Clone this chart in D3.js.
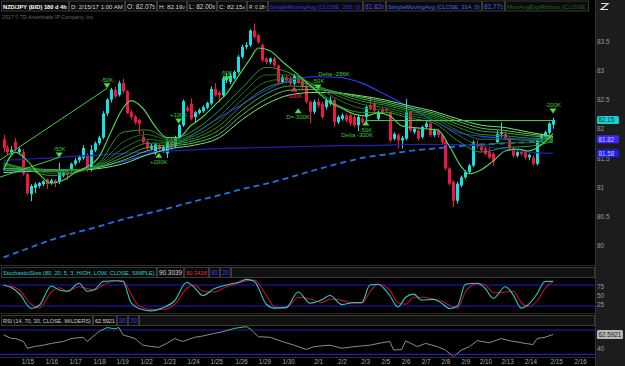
<!DOCTYPE html>
<html>
<head>
<meta charset="utf-8">
<script src="https://cdnjs.cloudflare.com/ajax/libs/d3/7.8.5/d3.min.js"></script>
<style>
html, body { margin: 0; padding: 0; background: #000; }
svg { display: block; font-family: "Liberation Sans", Arial, sans-serif; }
</style>
</head>
<body>
<div id="chart"></div>
<script>

// ---- candles (4h bars, NZD/JPY) ----
const openP = [
81.82,81.68,81.60,81.78,81.60,81.60,81.23,80.88,80.99,81.02,
81.05,81.13,81.07,81.12,81.09,81.20,81.27,81.29,81.40,81.46,
81.50,81.55,81.30,81.63,81.75,81.85,82.26,82.50,82.67,82.58,
82.78,82.64,82.28,82.21,82.15,81.86,81.78,81.66,81.58,81.72,
81.62,81.58,81.80,81.70,81.85,82.06,82.36,82.43,82.20,82.27,
82.30,82.36,82.43,82.68,82.62,82.57,82.83,82.80,82.86,82.97,
83.23,83.40,83.43,83.68,83.60,83.43,83.20,83.14,83.20,83.08,
82.80,82.88,82.86,82.77,82.88,82.83,82.74,82.46,82.29,82.46,
82.43,82.37,82.43,82.49,82.11,82.17,82.23,82.23,82.20,82.06,
82.17,82.20,82.40,82.43,82.17,82.34,82.34,82.28,81.83,81.89,
81.80,81.83,82.29,81.94,81.97,81.86,82.03,82.09,81.89,81.97,
81.89,81.77,81.32,81.09,80.77,81.03,81.17,81.26,81.37,81.74,
81.71,81.66,81.60,81.57,81.77,81.91,81.91,81.83,81.66,81.54,
81.60,81.60,81.51,81.51,81.40,81.80,81.87,81.93,82.07];
const highP = [
81.90,81.72,81.70,81.84,81.68,81.65,81.25,81.05,81.08,81.09,
81.12,81.15,81.14,81.14,81.42,81.30,81.30,81.42,81.50,81.55,
81.72,81.58,81.72,81.78,81.88,82.30,82.52,82.70,82.72,82.82,
82.86,82.66,82.32,82.24,82.17,81.96,81.80,81.74,81.76,81.74,
81.71,81.82,81.85,81.88,82.08,82.50,82.40,82.52,82.30,82.35,
82.40,82.46,82.72,82.78,82.64,82.90,82.95,82.95,83.00,83.26,
83.44,83.48,83.70,83.80,83.62,83.46,83.22,83.22,83.23,83.10,
82.92,82.91,82.90,82.94,82.92,82.86,82.77,82.48,82.50,82.52,
82.46,82.52,82.55,82.52,82.23,82.26,82.26,82.26,82.23,82.24,
82.20,82.40,82.55,82.46,82.31,82.37,82.36,82.30,81.94,81.92,
81.88,82.51,82.31,82.03,82.00,82.05,82.13,82.11,82.00,82.00,
81.92,81.80,81.34,81.12,81.09,81.20,81.29,81.40,81.80,81.80,
81.74,81.70,81.70,81.60,81.97,82.11,81.97,81.86,81.69,81.63,
81.63,81.63,81.58,81.54,81.83,81.92,81.97,82.11,82.19];
const lowP = [
81.60,81.55,81.56,81.62,81.56,81.20,80.86,80.76,80.90,80.98,
81.02,80.97,81.04,81.00,81.05,81.17,81.12,81.25,81.37,81.42,
81.47,81.26,81.27,81.60,81.72,81.82,82.22,82.45,82.52,82.55,
82.60,82.25,82.16,82.07,81.91,81.74,81.62,81.63,81.55,81.62,
81.59,81.50,81.64,81.67,81.83,82.03,82.28,82.14,82.10,82.24,
82.27,82.33,82.40,82.55,82.45,82.54,82.78,82.76,82.84,82.94,
83.20,83.36,83.40,83.54,83.45,83.14,83.10,83.10,83.05,82.77,
82.77,82.80,82.74,82.74,82.77,82.68,82.43,82.09,82.25,82.36,
82.17,82.33,82.40,82.03,82.08,82.14,82.11,82.05,82.03,81.96,
82.08,82.10,82.31,82.28,82.14,82.26,82.28,81.77,81.80,81.66,
81.66,81.80,81.94,81.91,81.80,81.83,82.00,81.86,81.86,81.85,
81.74,81.29,81.03,80.66,80.72,81.00,81.14,81.23,81.34,81.66,
81.60,81.54,81.48,81.37,81.74,81.86,81.80,81.63,81.51,81.51,
81.54,81.48,81.46,81.37,81.37,81.77,81.84,81.90,82.00];
const closeP = [
81.67,81.60,81.64,81.66,81.65,81.23,80.90,81.02,81.05,81.07,
81.10,81.05,81.12,81.07,81.29,81.26,81.22,81.40,81.46,81.52,
81.67,81.32,81.64,81.75,81.85,82.26,82.50,82.67,82.55,82.78,
82.64,82.27,82.20,82.11,82.09,81.77,81.66,81.71,81.73,81.65,
81.69,81.78,81.68,81.85,82.06,82.47,82.31,82.17,82.28,82.32,
82.37,82.44,82.68,82.57,82.57,82.86,82.86,82.91,82.97,83.23,
83.40,83.43,83.68,83.57,83.48,83.17,83.14,83.20,83.08,82.80,
82.88,82.83,82.77,82.91,82.80,82.71,82.46,82.29,82.46,82.40,
82.20,82.49,82.49,82.11,82.20,82.23,82.14,82.09,82.06,82.20,
82.11,82.37,82.34,82.31,82.29,82.29,82.31,81.80,81.91,81.80,
81.84,82.29,81.97,82.00,81.83,82.03,82.09,81.89,81.97,81.89,
81.77,81.32,81.06,80.77,81.06,81.17,81.26,81.37,81.77,81.69,
81.63,81.57,81.51,81.43,81.91,81.94,81.83,81.66,81.54,81.60,
81.57,81.51,81.55,81.40,81.80,81.89,81.94,82.09,82.15];

// ---- moving averages, read at sample bars ----
const maBars = [0,6,12,18,24,30,36,42,48,54,60,66,72,78,84,90,96,102,108,114,120,126,132,138];
const sma200 = [81.29,81.28,81.27,81.29,81.35,81.44,81.56,81.68,81.92,82.18,82.42,82.66,82.83,82.89,82.88,82.78,82.58,82.36,82.14,81.94,81.87,81.84,81.82,81.82];
const smaFlat = [81.46,81.48,81.50,81.53,81.55,81.58,81.60,81.62,81.64,81.66,81.67,81.68,81.69,81.70,81.71,81.71,81.72,81.73,81.73,81.73,81.70,81.65,81.60,81.58];
const smaDashed = [79.80,79.95,80.10,80.22,80.33,80.45,80.55,80.65,80.76,80.86,80.97,81.06,81.17,81.29,81.40,81.50,81.56,81.62,81.66,81.70,81.73,81.75,81.77,81.78];

const ribbon2 = [81.42,81.30,81.20,81.25,81.42,81.94,81.98,81.82,81.98,82.30,82.70,83.05,82.95,82.70,82.40,82.28,82.28,82.18,82.10,81.80,81.60,81.68,81.70,81.78];
const ribbon3 = [81.40,81.32,81.24,81.27,81.40,81.77,81.90,81.80,81.92,82.20,82.60,82.92,82.92,82.75,82.50,82.35,82.32,82.22,82.14,81.90,81.72,81.76,81.76,81.80];
const ribbon4 = [81.38,81.33,81.27,81.29,81.38,81.66,81.82,81.78,81.88,82.12,82.50,82.80,82.86,82.76,82.56,82.42,82.36,82.26,82.18,81.97,81.82,81.82,81.80,81.82];
const ribbon5 = [81.35,81.33,81.29,81.30,81.37,81.57,81.75,81.76,81.84,82.04,82.41,82.70,82.80,82.74,82.60,82.47,82.40,82.30,82.21,82.03,81.90,81.88,81.84,81.83];
const ribbon6 = [81.32,81.32,81.30,81.30,81.35,81.51,81.68,81.73,81.80,81.97,82.32,82.60,82.73,82.71,82.62,82.51,82.43,82.33,82.24,82.08,81.96,81.93,81.88,81.85];
const ribbon7 = [81.29,81.30,81.30,81.30,81.34,81.46,81.62,81.70,81.76,81.90,82.24,82.51,82.66,82.67,82.62,82.54,82.46,82.36,82.27,82.13,82.01,81.97,81.91,81.86];
const ribbon8 = [81.25,81.27,81.28,81.29,81.32,81.40,81.55,81.66,81.72,81.84,82.16,82.42,82.58,82.62,82.61,82.56,82.49,82.39,82.30,82.17,82.06,82.02,81.94,81.87];

const fastBars = [0,3,6,9,12,15,18,21,24,27,30,32,35,38,41,44,47,50,53,56,59,62,64,67,70,73,76,79,82,85,88,91,94,97,100,103,106,109,112,115,117,120,123,126,129,132,135,138];
const fastEma = [81.30,81.60,81.45,81.22,81.07,81.12,81.25,81.35,81.52,81.95,82.35,82.48,82.35,82.05,81.85,81.85,82.05,82.20,82.40,82.60,82.90,83.20,83.38,83.33,83.15,82.98,82.80,82.62,82.45,82.35,82.25,82.22,82.27,82.22,82.05,82.02,82.00,81.98,81.70,81.35,81.23,81.30,81.45,81.62,81.65,81.62,81.72,81.92];

// ---- trade signals ----
const sigBars = [14, 26, 39, 44, 56, 73, 79, 74, 91, 138];
const sigPrices = [81.51, 82.69, 81.59, 82.09, 82.81, 82.72, 82.67, 82.35, 82.14, 82.26];
const sigDirs = ["down","down","up","down","down","up","down","up","up","down"];
const sigLabels = ["-50K","-50K","+200K","+100K","-50K","-100K","-50K","D=-300K","-50K","-200K"];
const noteBars = [83, 88.8];
const notePrices = [82.90, 81.86];
const noteLabels = ["Delta -286K", "Delta -300K"];
const zzFromBar = [-1, -1, 91], zzFromPrice = [81.46, 81.17, 82.14];
const zzToBar = [26, 14, 138], zzToPrice = [82.69, 81.51, 82.14];

// ---- stochastic slow ----
const stochBars = [0,2,4,7,9,12,14,16,19,21,23,25,28,30,32,34,37,40,43,46,48,50,53,56,59,61,63,66,68,71,74,77,80,82,85,88,90,92,94,97,99,101,103,105,108,110,112,114,116,119,121,123,126,128,130,132,134,136,138];
const stochK = [80,72,55,13,22,77,66,62,85,62,68,90,92,90,30,13,6,15,35,88,72,50,70,80,88,96,90,25,14,16,60,28,38,50,24,30,30,80,82,50,17,45,54,37,39,28,13,20,82,85,70,42,75,52,14,26,55,90,90.3];
const stochD = [78,76,65,25,15,60,72,62,75,70,66,80,92,92,55,20,10,10,25,70,80,62,60,75,85,92,94,50,18,14,45,40,30,40,36,28,28,60,82,65,30,25,45,45,40,34,22,14,60,84,80,58,60,62,30,18,35,70,90.3];

// ---- RSI ----
const rsiBars = [0,2,3,5,6,8,10,12,15,17,20,21,23,24,26,28,29,30,33,35,37,39,41,43,45,48,50,53,55,58,61,62,64,67,70,73,76,78,80,82,85,88,92,95,97,98,100,101,104,106,109,111,113,115,117,119,122,124,125,127,131,133,134,136,138];
const rsiVals = [62,56,56,51,40,43,45,48,51,56,58,51,62,67.5,74,72,74,62,56,45,43,41.5,48,56,51,58,60,64.5,67,72.7,75.5,71.6,59,58,51,45,38,42.6,44,45,40,42.6,45,49,51,37,38,52,42.6,48,42.6,37,26,37,42.6,52.5,49,53.6,56,52.5,48,46,56,58,62.59];

// ---- axes ----
const priceTicks = [80, 80.5, 81, 81.5, 82, 82.5, 83, 83.5];
const dateLabels = ["1/15","1/16","1/17","1/18","1/19","1/22","1/23","1/24","1/25","1/26","1/29","1/30","2/1","2/2","2/3","2/5","2/6","2/7","2/8","2/9","2/10","2/13","2/14","2/15","2/16"];
const dateBars = [6,12,18,24,29.8,35.8,41.6,47.6,53.4,59.7,65.5,71.5,79,85,90.8,95.9,101,106,111,116,121,126.5,132.3,138.8,144.8];


const W = 625, H = 366, plotR = 595;
const upCol = "#14e2e2", dnCol = "#ef1646";

const svg = d3.select("#chart").append("svg")
    .attr("width", W).attr("height", H);
svg.append("rect").attr("width", W).attr("height", H).attr("fill", "#000");

const x = d3.scaleLinear().domain([0, 138]).range([3.5, 553]);
const y = d3.scaleLinear().domain([80, 83.5]).range([245.7, 41]);
const yS = d3.scaleLinear().domain([0, 100]).range([313, 278]);
const yR = d3.scaleLinear().domain([30, 70]).range([354.3, 330]);

const defs = svg.append("defs");
function clip(id, x0, y0, w, h) {
    defs.append("clipPath").attr("id", id).append("rect")
        .attr("x", x0).attr("y", y0).attr("width", w).attr("height", h);
}
clip("cMain", 0, 12, plotR, 253);
clip("cStoch", 0, 278, plotR, 36);
clip("cRsi", 0, 326, plotR, 31);
clip("cRsiHi", 0, 300, plotR, yR(70) - 300);
clip("cRsiMid", 0, yR(70), plotR, yR(30) - yR(70));
clip("cRsiLo", 0, yR(30), plotR, 20);

// right axis panel
svg.append("rect").attr("x", plotR).attr("y", 0).attr("width", W - plotR).attr("height", H).attr("fill", "#1c1c1c");
svg.append("line").attr("x1", plotR + 0.5).attr("x2", plotR + 0.5).attr("y1", 0).attr("y2", H).attr("stroke", "#333");
svg.append("path").attr("d", "M601,3.5H608L601,9.5H608").attr("fill", "none").attr("stroke", "#ddd").attr("stroke-width", 1.2);

// panel separators
[265.5, 313.5, 357.5].forEach(v => {
    svg.append("line").attr("x1", 0).attr("x2", plotR).attr("y1", v).attr("y2", v).attr("stroke", "#2c2c2c");
});

// ---- header text boxes ----
function boxRow(items, y0, h, fs) {
    const g = svg.append("g");
    items.forEach(it => {
        g.append("rect").attr("x", it.x0 + 0.5).attr("y", y0 + 0.5)
            .attr("width", it.x1 - it.x0 - 1).attr("height", h)
            .attr("fill", it.bg || "#0a0a0a").attr("stroke", "#3a3a3a");
        if (!it.t) return;
        const t = g.append("text").attr("x", it.x0 + 2).attr("y", y0 + h - 2)
            .attr("font-size", fs).attr("fill", it.c)
            .attr("font-weight", it.b ? "bold" : "normal");
        t.append("tspan").text(it.t);
        const sub = it.s ? t.append("tspan").attr("font-size", fs * 0.7).text(it.s) : null;
        // shrink the font until the text fits its box
        const avail = it.x1 - it.x0 - 4;
        const w = t.node().getComputedTextLength();
        if (w > avail) {
            const f = fs * avail / w;
            t.attr("font-size", f);
            if (sub) sub.attr("font-size", f * 0.7);
        }
    });
}

boxRow([
    {t: "NZD/JPY (BID) 180 d 4h", x0: 1, x1: 69, c: "#fff", b: true},
    {t: "D: 2/15/17 1:00 AM", x0: 69, x1: 125, c: "#d8d8d8"},
    {t: "O: 82.07", s: "5", x0: 125, x1: 157, c: "#d8d8d8"},
    {t: "H: 82.19", s: "2", x0: 157, x1: 187, c: "#d8d8d8"},
    {t: "L: 82.00", s: "6", x0: 187, x1: 217, c: "#d8d8d8"},
    {t: "C: 82.15", s: "4", x0: 217, x1: 247, c: "#d8d8d8"},
    {t: "R: 0.18", s: "7", x0: 247, x1: 268, c: "#d8d8d8"},
    {t: "SimpleMovingAvg (CLOSE, 200, 0)", x0: 268, x1: 363, c: "#3434ff"},
    {t: "81.82", s: "6", x0: 363, x1: 386, c: "#6a48ff"},
    {t: "SimpleMovingAvg (CLOSE, 314, 0)", x0: 386, x1: 482, c: "#4468ff"},
    {t: "81.77", s: "5", x0: 482, x1: 505, c: "#4468ff"},
    {t: "MovAvgExpRibbon (CLOSE, ", x0: 505, x1: 589, c: "#1c6a1c"}
], 0.5, 10, 7);

svg.append("text").attr("x", 2).attr("y", 19).attr("font-size", 5.2).attr("fill", "#666")
    .text("2017 \u00a9 TD Ameritrade IP Company, Inc.");

boxRow([
    {t: "StochasticSlow (80, 20, 5, 3, HIGH, LOW, CLOSE, SIMPLE)", x0: 1, x1: 157, c: "#2fc6c6"},
    {t: "90.3039", x0: 157, x1: 184, c: "#d8d8d8"},
    {t: "90.3418", x0: 184, x1: 209, c: "#e02a2a"},
    {t: "80", x0: 209, x1: 220, c: "#3d3dff"},
    {t: "20", x0: 220, x1: 231, c: "#3d3dff"},
    {x0: 231, x1: plotR, bg: "#111"}
], 267, 10, 6.8);

boxRow([
    {t: "RSI (14, 70, 30, CLOSE, WILDERS)", x0: 1, x1: 93, c: "#c8c8c8"},
    {t: "62.5921", x0: 93, x1: 117, c: "#d8d8d8"},
    {t: "30", x0: 117, x1: 128, c: "#3d3dff"},
    {t: "70", x0: 128, x1: 139, c: "#3d3dff"},
    {x0: 139, x1: plotR, bg: "#111"}
], 315, 10, 6.8);

// ---- main price pane ----
const main = svg.append("g").attr("clip-path", "url(#cMain)");
const bars = d3.range(closeP.length);
const colOf = i => closeP[i] >= openP[i] ? upCol : dnCol;

main.append("g").selectAll("line").data(bars).join("line")
    .attr("x1", i => Math.round(x(i)) + 0.5).attr("x2", i => Math.round(x(i)) + 0.5)
    .attr("y1", i => y(highP[i])).attr("y2", i => y(lowP[i]))
    .attr("stroke", colOf).attr("stroke-width", 1);
main.append("g").selectAll("rect").data(bars).join("rect")
    .attr("x", i => Math.round(x(i)) - 1).attr("width", 3)
    .attr("y", i => y(Math.max(openP[i], closeP[i])))
    .attr("height", i => Math.max(1, Math.abs(y(openP[i]) - y(closeP[i]))))
    .attr("fill", colOf);

const maLine = d3.line().x(d => x(d[0])).y(d => y(d[1])).curve(d3.curveMonotoneX);

main.append("path").attr("d", maLine(d3.zip(maBars, smaDashed)))
    .attr("fill", "none").attr("stroke", "#1f74e8").attr("stroke-width", 1.8).attr("stroke-dasharray", "6,4");
main.append("path").attr("d", maLine(d3.zip(maBars, smaFlat)))
    .attr("fill", "none").attr("stroke", "#2020b8").attr("stroke-width", 1.2);
main.append("path").attr("d", maLine(d3.zip(maBars, sma200)))
    .attr("fill", "none").attr("stroke", "#2a3aff").attr("stroke-width", 1.1);

const ribbons = [ribbon8, ribbon7, ribbon6, ribbon5, ribbon4, ribbon3, ribbon2];
const ribbonCols = ["#7be27b", "#52c452", "#3aa83a", "#2b8f2b", "#217b21", "#1d6e1d", "#2e9a2e"];
ribbons.forEach((r, k) => {
    main.append("path").attr("d", maLine(d3.zip(maBars, r)))
        .attr("fill", "none").attr("stroke", ribbonCols[k]).attr("stroke-width", 1);
});
main.append("path").attr("d", maLine(d3.zip(fastBars, fastEma)))
    .attr("fill", "none").attr("stroke", "#49d649").attr("stroke-width", 1.2);

// zigzag connectors
main.append("g").selectAll("line").data(d3.range(zzFromBar.length)).join("line")
    .attr("x1", k => x(zzFromBar[k])).attr("y1", k => y(zzFromPrice[k]))
    .attr("x2", k => x(zzToBar[k])).attr("y2", k => y(zzToPrice[k]))
    .attr("stroke", "#3fcf3f").attr("stroke-width", 1);

// signal markers
const sg = main.append("g");
d3.range(sigBars.length).forEach(k => {
    const cx = x(sigBars[k]), cy = y(sigPrices[k]);
    const isUp = sigDirs[k] === "up";
    const col = sigLabels[k] === "-100K" ? "#e8305a" : "#44dd44";
    const tri = isUp
        ? [[cx, cy], [cx - 3.5, cy + 5], [cx + 3.5, cy + 5]]
        : [[cx, cy], [cx - 3.5, cy - 5], [cx + 3.5, cy - 5]];
    sg.append("path").attr("d", d3.line()(tri) + "Z").attr("fill", col);
    sg.append("text").attr("x", cx).attr("y", isUp ? cy + 11 : cy - 6.5)
        .attr("text-anchor", "middle").attr("font-size", 6).attr("fill", col === "#44dd44" ? "#3cc83c" : col)
        .text(sigLabels[k]);
});
sg.selectAll("text.note").data(d3.range(noteBars.length)).join("text")
    .attr("class", "note")
    .attr("x", k => x(noteBars[k])).attr("y", k => y(notePrices[k]))
    .attr("text-anchor", "middle").attr("font-size", 6).attr("fill", "#3cc83c")
    .text(k => noteLabels[k]);

// price axis
const pAxis = svg.append("g").attr("transform", `translate(${plotR},0)`)
    .call(d3.axisRight(y).tickValues(priceTicks).tickSize(0).tickPadding(2).tickFormat(d => String(d)));
pAxis.select(".domain").remove();
pAxis.selectAll("text").attr("fill", "#9a9a9a").attr("font-size", 6.5).attr("font-family", "Liberation Sans, Arial, sans-serif");

// value bubbles on the price axis
function bubble(yy, label, bg, fg) {
    svg.append("rect").attr("x", plotR + 2).attr("y", yy - 4).attr("width", 22).attr("height", 8)
        .attr("rx", 1.5).attr("fill", bg);
    svg.append("text").attr("x", plotR + 3.5).attr("y", yy + 2.3).attr("font-size", 6.3)
        .attr("fill", fg).text(label);
}
bubble(y(closeP[closeP.length - 1]), "82.15", "#17d0d0", "#063a3a");
bubble(y(sma200[sma200.length - 1]), "81.82", "#3b26f5", "#c9c4ff");
bubble(y(smaFlat[smaFlat.length - 1]), "81.58", "#1e1ee0", "#c4c8ff");

// ---- stochastic pane ----
const st = svg.append("g").attr("clip-path", "url(#cStoch)");
[80, 20].forEach(v => {
    st.append("line").attr("x1", 0).attr("x2", plotR).attr("y1", yS(v)).attr("y2", yS(v))
        .attr("stroke", "#1d1dc8").attr("stroke-width", 1.2);
});
const stLine = d3.line().x(d => x(d[0])).y(d => yS(d[1])).curve(d3.curveMonotoneX);
st.append("path").attr("d", stLine(d3.zip(stochBars, stochD)))
    .attr("fill", "none").attr("stroke", "#c8101e").attr("stroke-width", 1.1);
st.append("path").attr("d", stLine(d3.zip(stochBars, stochK)))
    .attr("fill", "none").attr("stroke", "#2ec9c9").attr("stroke-width", 1.1);

const sAxis = svg.append("g").attr("transform", `translate(${plotR},0)`)
    .call(d3.axisRight(yS).tickValues([25, 50, 75]).tickSize(0).tickPadding(2));
sAxis.select(".domain").remove();
sAxis.selectAll("text").attr("fill", "#9a9a9a").attr("font-size", 6.5).attr("font-family", "Liberation Sans, Arial, sans-serif");

// ---- RSI pane ----
const rs = svg.append("g").attr("clip-path", "url(#cRsi)");
[70, 30].forEach(v => {
    rs.append("line").attr("x1", 0).attr("x2", plotR).attr("y1", yR(v)).attr("y2", yR(v))
        .attr("stroke", "#1d1dc8").attr("stroke-width", 1.2);
});
const rsLine = d3.line().x(d => x(d[0])).y(d => yR(d[1]));
const rsiPath = rsLine(d3.zip(rsiBars, rsiVals));
[["cRsiHi", "#3fcf3f"], ["cRsiMid", "#8c8c8c"], ["cRsiLo", "#e0284a"]].forEach(([c, col]) => {
    rs.append("g").attr("clip-path", `url(#${c})`).append("path").attr("d", rsiPath)
        .attr("fill", "none").attr("stroke", col).attr("stroke-width", 1);
});

const rAxis = svg.append("g").attr("transform", `translate(${plotR},0)`)
    .call(d3.axisRight(yR).tickValues([40, 60]).tickSize(0).tickPadding(2));
rAxis.select(".domain").remove();
rAxis.selectAll("text").attr("fill", "#9a9a9a").attr("font-size", 6.5).attr("font-family", "Liberation Sans, Arial, sans-serif");
svg.append("rect").attr("x", plotR + 2).attr("y", yR(62.59) - 4.5).attr("width", 26).attr("height", 9)
    .attr("rx", 1.5).attr("fill", "#b8b8b8");
svg.append("text").attr("x", plotR + 3.5).attr("y", yR(62.59) + 2.3).attr("font-size", 6.3)
    .attr("fill", "#222").text("62.5921");

// ---- date axis ----
const dAxis = svg.append("g").attr("transform", "translate(0,357)")
    .call(d3.axisBottom(x).tickValues(dateBars).tickSize(0).tickPadding(3)
        .tickFormat((d, i) => dateLabels[i]));
dAxis.select(".domain").remove();
dAxis.selectAll("text").attr("fill", "#a8a8a8").attr("font-size", 6.3).attr("font-family", "Liberation Sans, Arial, sans-serif");

</script>
</body>
</html>
